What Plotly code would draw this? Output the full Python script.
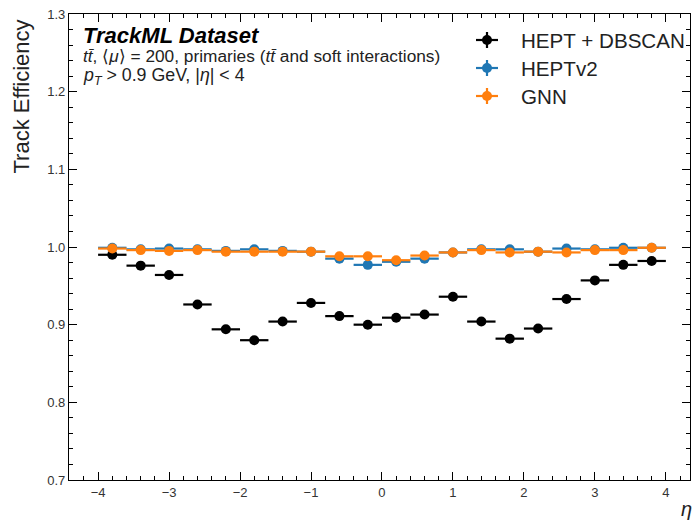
import plotly.graph_objects as go

eta = [-3.8, -3.4, -3.0, -2.6, -2.2, -1.8, -1.4, -1.0, -0.6, -0.2,
       0.2, 0.6, 1.0, 1.4, 1.8, 2.2, 2.6, 3.0, 3.4, 3.8]
half_width = [0.2] * len(eta)

hept_dbscan = [0.990, 0.976, 0.964, 0.926, 0.894, 0.880, 0.904, 0.928, 0.911, 0.900,
               0.909, 0.913, 0.936, 0.904, 0.882, 0.895, 0.933, 0.957, 0.977, 0.982]
heptv2 = [0.999, 0.997, 0.998, 0.997, 0.995, 0.997, 0.995, 0.994, 0.985, 0.977,
          0.981, 0.985, 0.993, 0.997, 0.997, 0.994, 0.998, 0.997, 0.999, 0.999]
gnn = [0.998, 0.996, 0.995, 0.996, 0.994, 0.994, 0.994, 0.994, 0.988, 0.988,
       0.983, 0.989, 0.993, 0.996, 0.993, 0.994, 0.993, 0.996, 0.996, 0.999]

series = [("HEPT + DBSCAN", hept_dbscan, "#000000"),
          ("HEPTv2", heptv2, "#1f77b4"),
          ("GNN", gnn, "#ff7f0e")]

FONT = "Liberation Sans, Arial, sans-serif"
W, H = 695, 525
ML, MR, MT, MB = 69, 5, 14, 45
PW, PH = W - ML - MR, H - MT - MB


def px(x):
    return (x - ML) / PW


def py(y):
    return 1 - (y - MT) / PH


fig = go.Figure()
for name, vals, col in series:
    fig.add_trace(go.Scatter(
        x=eta, y=vals, mode="markers", name=name, showlegend=False,
        marker=dict(color=col, size=10, line=dict(width=0)),
        error_x=dict(type="data", array=half_width, color=col, thickness=2.2, width=0),
    ))

axis_common = dict(
    showline=True, linecolor="black", linewidth=1.2, mirror="allticks",
    ticks="inside", ticklen=8, tickwidth=1, tickcolor="black",
    showgrid=False, zeroline=False,
    tickfont=dict(family=FONT, size=13, color="#333333"),
)

fig.update_xaxes(range=[-4.41, 4.34], dtick=1, tick0=0,
                 minor=dict(ticks="inside", ticklen=4, dtick=0.2, tick0=0, tickcolor="black", showgrid=False),
                 **axis_common)
fig.update_yaxes(range=[0.7, 1.3], dtick=0.1, tick0=0.7, tickformat=".1f",
                 minor=dict(ticks="inside", ticklen=4, dtick=0.02, tick0=0.7, tickcolor="black", showgrid=False),
                 **axis_common)

fig.add_annotation(xref="paper", yref="paper", x=-0.076, y=0.992, xanchor="center", yanchor="top",
                   text="Track Efficiency", textangle=-90, showarrow=False,
                   font=dict(family=FONT, size=22, color="#222222"))
fig.add_annotation(xref="paper", yref="paper", x=px(686), y=py(496), xanchor="center", yanchor="top",
                   text="<i>η</i>", showarrow=False,
                   font=dict(family=FONT, size=20, color="#222222"))

fig.add_annotation(xref="paper", yref="paper", x=0.02, y=py(35), xanchor="left", yanchor="middle",
                   text="<b><i>TrackML Dataset</i></b>", showarrow=False,
                   font=dict(family=FONT, size=22, color="black"))
fig.add_annotation(xref="paper", yref="paper", x=0.02, y=py(56), xanchor="left", yanchor="middle",
                   text="<i>tt̄</i>, ⟨<i>μ</i>⟩ = 200, primaries (<i>tt̄</i> and soft interactions)",
                   showarrow=False, font=dict(family=FONT, size=17.3, color="#222222"))
fig.add_annotation(xref="paper", yref="paper", x=0.02, y=py(77), xanchor="left", yanchor="middle",
                   text="<i>p<sub>T</sub></i> &gt; 0.9 GeV, |<i>η</i>| &lt; 4",
                   showarrow=False, font=dict(family=FONT, size=17.8, color="#222222"))

# manual legend (marker with error-bar cross, as in the reference)
legend_y = [40, 68, 96]
mx = 487
for (name, vals, col), ly in zip(series, legend_y):
    fig.add_shape(type="line", xref="paper", yref="paper",
                  x0=px(mx - 11), x1=px(mx + 11), y0=py(ly), y1=py(ly),
                  line=dict(color=col, width=2.2))
    fig.add_shape(type="line", xref="paper", yref="paper",
                  x0=px(mx), x1=px(mx), y0=py(ly - 8), y1=py(ly + 8),
                  line=dict(color=col, width=2.2))
    fig.add_shape(type="circle", xref="paper", yref="paper",
                  x0=px(mx - 5), x1=px(mx + 5), y0=py(ly - 5), y1=py(ly + 5),
                  fillcolor=col, line=dict(width=0))
    fig.add_annotation(xref="paper", yref="paper", x=px(519), y=py(ly),
                       xanchor="left", yanchor="middle", text=name, showarrow=False,
                       font=dict(family=FONT, size=20.6, color="#222222"))

fig.update_layout(
    width=W, height=H,
    margin=dict(l=ML, r=MR, t=MT, b=MB),
    plot_bgcolor="white", paper_bgcolor="white",
    showlegend=False,
)

fig.write_html("out.html")
